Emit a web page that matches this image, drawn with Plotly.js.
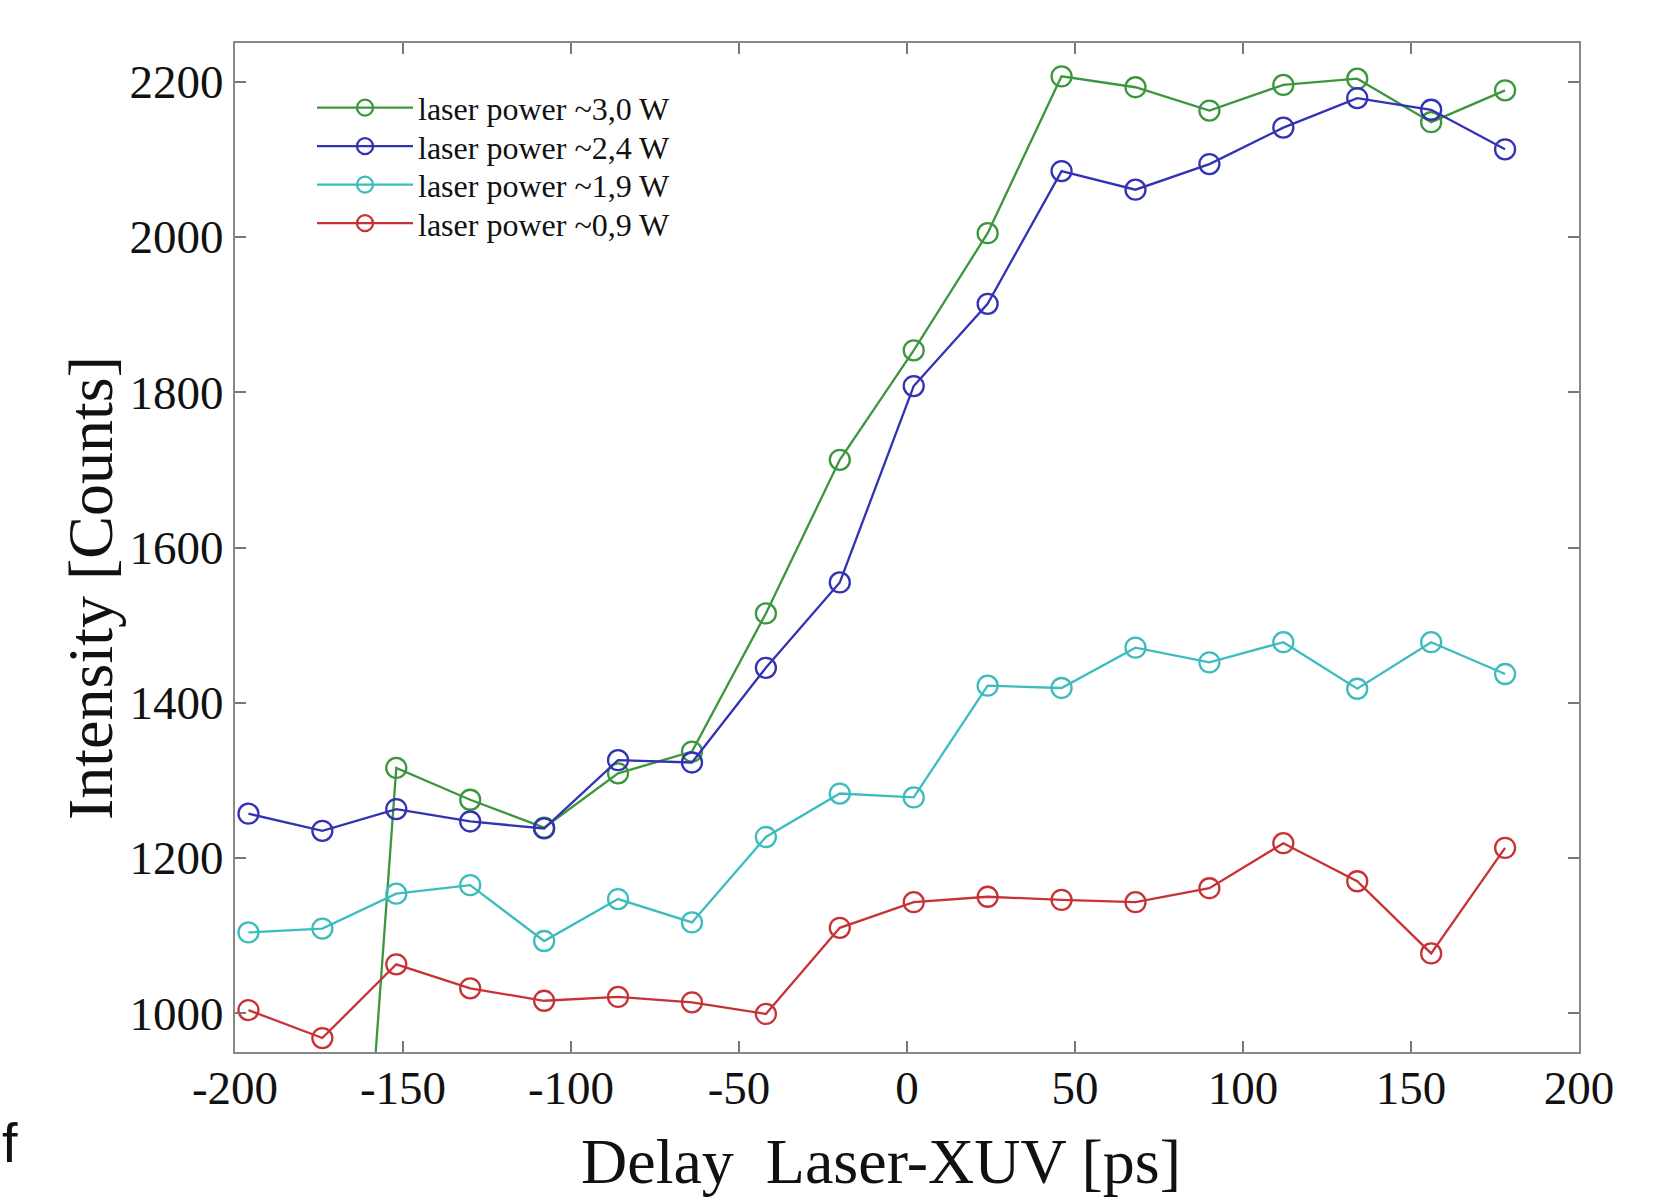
<!DOCTYPE html>
<html>
<head>
<meta charset="utf-8">
<script src="https://cdn.plot.ly/plotly-3.0.1.min.js"></script>
<style>html,body{margin:0;padding:0;background:#fff;}#chart{width:1675px;height:1197px;}</style>
</head>
<body>
<div id="chart"></div>
<script>
// Delay values [ps]
const delays = [-196, -174, -152, -130, -108, -86, -64, -42, -20, 2, 24, 46, 68, 90, 112, 134, 156, 178];
const delaysGreen = [-174, -152, -130, -108, -86, -64, -42, -20, 2, 24, 46, 68, 90, 112, 134, 156, 178];

const green30 = [0, 1316, 1275, 1239, 1309, 1337, 1515, 1713, 1854, 2005, 2207, 2193, 2163, 2196, 2204, 2148, 2189];
const blue24 = [1257, 1235, 1263, 1247, 1238, 1326, 1323, 1445, 1555, 1808, 1914, 2085, 2061, 2094, 2141, 2179, 2164, 2113];
const cyan19 = [1104, 1109, 1154, 1165, 1093, 1147, 1117, 1227, 1283, 1278, 1422, 1419, 1471, 1452, 1478, 1418, 1478, 1437];
const red09 = [1004, 968, 1063, 1032, 1016, 1021, 1014, 999, 1110, 1143, 1150, 1146, 1143, 1161, 1219, 1170, 1077, 1213];

const names = ['laser power ~3,0 W', 'laser power ~2,4 W', 'laser power ~1,9 W', 'laser power ~0,9 W'];
const colors = ['#3c963c', '#3232b4', '#3cbcbc', '#c83236'];

const xTickVals = [-200, -150, -100, -50, 0, 50, 100, 150, 200];
const xTickText = ['-200', '-150', '-100', '-50', '0', '50', '100', '150', '200'];
const yTickVals = [1000, 1200, 1400, 1600, 1800, 2000, 2200];

const xTitle = 'Delay  Laser-XUV [ps]';
const yTitle = 'Intensity [Counts]';

function tr(x, y, name, color) {
  return {
    x: x, y: y, name: name, type: 'scatter', mode: 'lines+markers',
    line: {color: color, width: 2.3},
    marker: {symbol: 'circle-open', size: 20, color: color, line: {width: 2.3, color: color}}
  };
}

const data = [
  tr(delaysGreen, green30, names[0], colors[0]),
  tr(delays, blue24, names[1], colors[1]),
  tr(delays, cyan19, names[2], colors[2]),
  tr(delays, red09, names[3], colors[3])
];

const serif = 'Liberation Serif, Times New Roman, serif';
const layout = {
  width: 1675, height: 1197,
  margin: {l: 235, r: 96, t: 43, b: 145},
  paper_bgcolor: '#ffffff', plot_bgcolor: '#ffffff',
  font: {family: serif, color: '#111'},
  showlegend: true,
  legend: {
    x: 0.0573, y: 0.963, xanchor: 'left', yanchor: 'top',
    bgcolor: 'rgba(255,255,255,0)', borderwidth: 0,
    font: {family: serif, size: 32, color: '#111'},
    itemwidth: 96
  },
  xaxis: {
    range: [-200, 200], tickmode: 'array', tickvals: xTickVals, ticktext: xTickText,
    ticks: 'inside', ticklen: 11, tickwidth: 2, tickcolor: '#777',
    showline: true, linecolor: '#888', linewidth: 2, mirror: 'ticks',
    showgrid: false, zeroline: false, ticklabelstandoff: -6,
    tickfont: {family: serif, size: 47, color: '#111'}
  },
  yaxis: {
    range: [950, 2250], tickmode: 'array', tickvals: yTickVals,
    ticks: 'inside', ticklen: 11, tickwidth: 2, tickcolor: '#777',
    showline: true, linecolor: '#888', linewidth: 2, mirror: 'ticks',
    showgrid: false, zeroline: false,
    tickfont: {family: serif, size: 47, color: '#111'}
  },
  annotations: [
    {
      text: xTitle, xref: 'paper', yref: 'paper', x: 0.4807, y: -0.109,
      xanchor: 'center', yanchor: 'middle', showarrow: false,
      font: {family: serif, size: 64, color: '#111'}
    },
    {
      text: yTitle, xref: 'paper', yref: 'paper', x: -0.1071, y: 0.4599, textangle: -90,
      xanchor: 'center', yanchor: 'middle', showarrow: false,
      font: {family: serif, size: 64, color: '#111'}
    },
    {
      text: 'f', xref: 'paper', yref: 'paper', x: -0.175, y: -0.09,
      xanchor: 'left', yanchor: 'middle', showarrow: false,
      font: {family: 'Liberation Sans, Arial, sans-serif', size: 56, color: '#111'}
    }
  ]
};

Plotly.newPlot('chart', data, layout, {displayModeBar: false, staticPlot: true}).then(function () {
  // tighten legend row spacing to match the reference
  const items = document.querySelectorAll('.legend .traces');
  if (!items.length) return;
  const parse = function (el) {
    const m = /translate\(\s*([-\d.e]+)[ ,]+([-\d.e]+)\s*\)/.exec(el.getAttribute('transform') || '');
    return m ? [parseFloat(m[1]), parseFloat(m[2])] : null;
  };
  const first = parse(items[0]);
  if (!first) return;
  items.forEach(function (el, i) {
    const p = parse(el);
    if (p) el.setAttribute('transform', 'translate(' + p[0] + ',' + (first[1] + i * 38.5) + ')');
  });
});
</script>
</body>
</html>
